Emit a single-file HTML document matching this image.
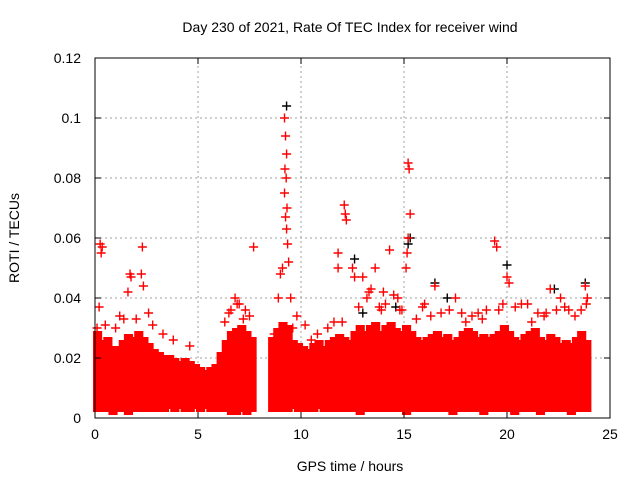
<!DOCTYPE html>
<html><head><meta charset="utf-8"><style>
body{margin:0;background:#fff;}
svg{display:block;font-family:"Liberation Sans",sans-serif;}
</style></head><body>
<svg id="chart" width="640" height="480" viewBox="0 0 640 480">
<rect width="640" height="480" fill="#fff"/>
<text x="350" y="32" font-size="14" text-anchor="middle">Day 230 of 2021, Rate Of TEC Index for receiver wind</text>
<text x="350" y="471" font-size="14" text-anchor="middle">GPS time / hours</text>
<text transform="translate(19,238) rotate(-90)" font-size="14" text-anchor="middle">ROTI / TECUs</text>
<g id="grid"></g><g id="band"></g><g id="pts"></g><g id="axes"></g>
</svg>
<script>
const xTicks=[0,5,10,15,20,25];
const yTicks=[0,0.02,0.04,0.06,0.08,0.1,0.12];
const yTickLabels=["0","0.02","0.04","0.06","0.08","0.1","0.12"];
const binStart=0, binWidth=0.25;
const bandHigh=[29,26,27,24,24,26,28,27,29,27,25,23,22,21,21,20,19,20,19,18,17,16,17,18,22,26,29,30,31,29,27,null,null,null,27,30,32,31,26,25,24,23,25,26,24,26,27,28,27,26,29,31,29,31,32,29,31,32,30,29,31,29,27,26,27,28,29,27,28,26,27,29,30,29,27,28,27,28,29,31,29,27,26,28,29,30,27,26,28,27,25,26,25,27,29,26];
const bandLow=[2,2,2,1,2,2,1,2,2,2,2,2,2,2,3,2,3,2,2,3,2,3,2,2,2,2,1,1,2,1,2,null,null,null,2,2,2,2,3,2,2,2,2,3,2,2,2,2,2,2,2,1,2,2,2,2,2,2,2,2,1,2,2,2,2,2,2,2,2,1,2,2,2,2,2,1,2,2,2,2,2,1,2,2,2,2,1,2,2,2,2,2,1,2,2,2];
const blackX=[9.3,12.6,15.3,20,16.5,22.3,23.8,13.0,15.2,14.6,17.1];
const blackY=[0.104,0.053,0.06,0.051,0.045,0.043,0.045,0.035,0.058,0.037,0.04];
const redX=[0.2,0.25,0.3,0.35,1.7,1.75,1.6,2.3,2.25,2.35,6.8,6.9,7.7,9.2,9.25,9.3,9.28,9.2,9.25,9.3,9.35,9.1,9.4,9.0,9.22,9.32,12.1,12.15,12.2,11.8,11.8,12.5,12.6,13.6,14.3,14.0,15.2,15.25,15.3,15.2,15.15,15.1,16.5,17.5,19.4,19.5,20.0,20.1,22.1,23.8,23.85,13.0,13.2,13.4,13.8,14.5,14.8,16.0,16.8,17.8,18.3,18.8,21.0,21.5,22.6,23.0,0.5,1.0,1.4,2.8,3.3,4.6,6.3,6.6,7.2,7.5,9.6,10.2,10.8,11.3,11.6,12.8,13.9,14.9,15.6,16.3,18.0,19.0,19.8,20.4,21.2,21.8,22.4,23.3,23.9,0.1,3.8,8.7,8.9,10.5,12.0,1.2,2.0,2.6,6.5,7.0,7.3,9.5,9.8,13.3,14.1,14.7,15.9,17.2,18.6,19.6,20.7,21.9,22.8,23.6];
const redY=[0.037,0.058,0.055,0.057,0.048,0.047,0.042,0.057,0.048,0.044,0.04,0.038,0.057,0.1,0.094,0.088,0.08,0.075,0.067,0.063,0.058,0.05,0.052,0.048,0.083,0.07,0.071,0.068,0.066,0.055,0.05,0.05,0.047,0.05,0.056,0.042,0.085,0.083,0.068,0.06,0.055,0.05,0.044,0.04,0.059,0.057,0.047,0.045,0.043,0.044,0.038,0.047,0.04,0.043,0.037,0.041,0.036,0.038,0.035,0.035,0.034,0.033,0.038,0.035,0.04,0.036,0.031,0.03,0.033,0.031,0.028,0.024,0.032,0.036,0.033,0.034,0.03,0.031,0.028,0.03,0.032,0.037,0.036,0.036,0.033,0.034,0.032,0.036,0.038,0.037,0.032,0.034,0.036,0.034,0.04,0.03,0.026,0.028,0.04,0.026,0.032,0.034,0.033,0.035,0.035,0.038,0.036,0.04,0.034,0.042,0.038,0.04,0.037,0.036,0.035,0.036,0.038,0.035,0.037,0.036];
const NS="http://www.w3.org/2000/svg";
const X0=95,X1=610,Y0=418,Y1=58;
function xs(v){return X0+(v/25)*(X1-X0);}
function ys(v){return Y0-(v/0.12)*(Y0-Y1);}
function mk(tag,a,p){const e=document.createElementNS(NS,tag);for(const k in a)e.setAttribute(k,a[k]);p.appendChild(e);return e;}
const grid=document.getElementById('grid'),band=document.getElementById('band'),pts=document.getElementById('pts'),axes=document.getElementById('axes');
xTicks.forEach((t,i)=>{
 if(i>0&&i<xTicks.length-1){const g=mk('line',{x1:xs(t),x2:xs(t),y1:Y0,y2:Y1,stroke:'#a0a0a0','stroke-dasharray':'2,3'},grid);
 
 }
 mk('line',{x1:xs(t),x2:xs(t),y1:Y0,y2:Y0-6,stroke:'#000'},axes);
 mk('line',{x1:xs(t),x2:xs(t),y1:Y1,y2:Y1+6,stroke:'#000'},axes);
 const l=mk('text',{x:xs(t),y:Y0+21,'font-size':14,'text-anchor':'middle'},axes);l.textContent=t;
 
 
});
yTicks.forEach((t,i)=>{
 if(i>0&&i<yTicks.length-1){const g=mk('line',{x1:X0,x2:X1,y1:ys(t),y2:ys(t),stroke:'#a0a0a0','stroke-dasharray':'2,3'},grid);
 
 }
 mk('line',{x1:X0,x2:X0+6,y1:ys(t),y2:ys(t),stroke:'#000'},axes);
 mk('line',{x1:X1,x2:X1-6,y1:ys(t),y2:ys(t),stroke:'#000'},axes);
 const l=mk('text',{x:X0-14,y:ys(t)+5,'font-size':14,'text-anchor':'end'},axes);l.textContent=yTickLabels[i];
 
 
});
const fr=mk('rect',{x:X0,y:Y1,width:X1-X0,height:Y0-Y1,fill:'none',stroke:'#000'},axes);


bandHigh.forEach((h,i)=>{
 if(h===null)return;
 const x=binStart+i*binWidth;
 const hi=h/1000,lo=bandLow[i]/1000;
 const r=mk('rect',{x:xs(x)-2,y:ys(hi),width:xs(x+binWidth)-xs(x)+4,height:ys(lo)-ys(hi),fill:'#ff0000'},band);
 
 
});
function plus(x,y,c){
 const px=xs(x),py=ys(y);
 const p=mk('path',{d:`M${px-4.5},${py}H${px+4.5}M${px},${py-4.5}V${py+4.5}`,stroke:c,'stroke-width':1.4},pts);
 return p;
}
blackX.forEach((x,i)=>{const p=plus(x,blackY[i],'#000');
 
 });
redX.forEach((x,i)=>{const p=plus(x,redY[i],'#ff0000');
 
 });
</script>
</body></html>
